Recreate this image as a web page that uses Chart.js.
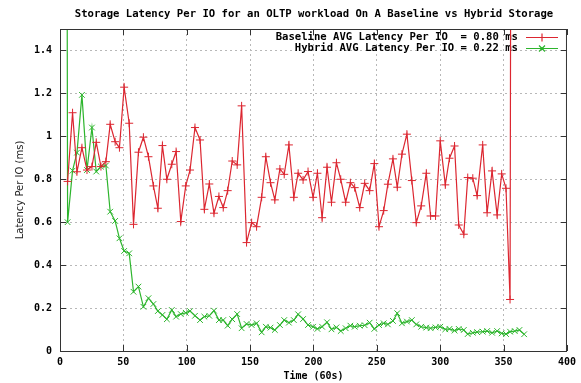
<!DOCTYPE html>
<html>
<head>
<meta charset="utf-8">
<title>Storage Latency Per IO</title>
<script src="https://cdn.jsdelivr.net/npm/chart.js@4.4.1/dist/chart.umd.min.js"></script>
<style>
  html, body { margin: 0; padding: 0; background: #fff; }
  #latencyChart { display: block; }
</style>
</head>
<body>
<canvas id="latencyChart" width="581" height="383"></canvas>
<script>
// sample times, in 60s intervals
var minutes = [2.3, 6.0, 9.9, 13.4, 17.3, 21.3, 25.2, 28.6, 32.3, 36.2, 39.6, 43.5, 46.9, 50.6, 54.6,
    58.0, 61.9, 65.8, 69.8, 73.7, 77.2, 80.8, 84.3, 88.2, 91.6, 95.3, 99.2, 102.6, 106.5, 110.5,
    113.9, 117.8, 121.5, 125.4, 128.8, 132.3, 135.9, 139.8, 143.3, 147.2, 151.2, 155.1, 159.1, 162.4,
    166.1, 169.5, 173.5, 176.9, 180.6, 184.5, 187.9, 191.8, 195.7, 199.7, 203.1, 206.8, 210.7, 214.2,
    218.1, 221.5, 225.4, 229.1, 232.5, 236.5, 240.4, 244.3, 248.0, 251.7, 255.4, 258.7, 262.7, 266.1,
    269.8, 273.7, 277.6, 281.1, 285.0, 289.0, 292.4, 296.3, 300.0, 304.0, 307.3, 311.3, 314.6, 318.6,
    321.7, 325.7, 329.1, 333.5, 337.0, 340.9, 344.9, 348.5, 351.9, 355.1, 358.8, 362.5, 366.2];

// latency per IO (ms)
var baselineMs = [null, 0.79, 1.11, 0.835, 0.947, 0.843, 0.859, 0.972, 0.859, 0.882, 1.056, 0.975, 0.947,
    1.229, 1.061, 0.59, 0.926, 0.996, 0.905, 0.769, 0.665, 0.957, 0.80, 0.87, 0.929, 0.603, 0.769,
    0.843, 1.041, 0.983, 0.66, 0.778, 0.642, 0.72, 0.668, 0.747, 0.885, 0.867, 1.142, 0.505, 0.598,
    0.579, 0.716, 0.905, 0.784, 0.704, 0.848, 0.823, 0.96, 0.716, 0.828, 0.797, 0.836, 0.716, 0.828,
    0.621, 0.856, 0.693, 0.877, 0.80, 0.693, 0.784, 0.761, 0.668, 0.781, 0.747, 0.873, 0.579, 0.654,
    0.777, 0.895, 0.763, 0.917, 1.01, 0.794, 0.598, 0.676, 0.828, 0.629, 0.629, 0.979, 0.774, 0.898,
    0.955, 0.587, 0.544, 0.808, 0.805, 0.724, 0.96, 0.644, 0.839, 0.634, 0.825, 0.758, 0.24, 12];

var hybridMs = [12, 0.60, 0.84, 0.924, 1.193, 0.843, 1.041, 0.836, 0.859, 0.864, 0.649, 0.606, 0.525,
    0.466, 0.455, 0.276, 0.30, 0.206, 0.246, 0.219, 0.186, 0.168, 0.148, 0.191, 0.16, 0.172, 0.178,
    0.186, 0.164, 0.144, 0.16, 0.164, 0.188, 0.144, 0.144, 0.118, 0.148, 0.172, 0.106, 0.126, 0.121,
    0.129, 0.087, 0.113, 0.109, 0.098, 0.121, 0.144, 0.132, 0.144, 0.171, 0.149, 0.121, 0.113, 0.103,
    0.113, 0.134, 0.101, 0.11, 0.093, 0.106, 0.118, 0.113, 0.118, 0.12, 0.132, 0.103, 0.121, 0.129,
    0.124, 0.14, 0.176, 0.129, 0.137, 0.144, 0.124, 0.113, 0.109, 0.106, 0.11, 0.113, 0.101, 0.103,
    0.095, 0.103, 0.098, 0.079, 0.085, 0.088, 0.09, 0.093, 0.085, 0.093, 0.082, 0.079, 0.09, 0.093,
    0.098, 0.078];

var xTicks = [0, 50, 100, 150, 200, 250, 300, 350, 400];
var yTicks = [0, 0.2, 0.4, 0.6, 0.8, 1, 1.2, 1.4];

var legendLabels = ['Baseline AVG Latency Per IO  = 0.80 ms', 'Hybrid AVG Latency Per IO = 0.22 ms'];
var chartTitle = 'Storage Latency Per IO for an OLTP workload On A Baseline vs Hybrid Storage';

var RED = '#dc2630';
var GREEN = '#2db52d';
var MONO = '"DejaVu Sans Mono", "Liberation Mono", monospace';

function toPoints(values) {
    return values.map(function (v, i) { return { x: minutes[i], y: v }; });
}

// gnuplot style frame: box, inward tick marks, title and key
var gnuFrame = {
    id: 'gnuFrame',
    beforeDatasetsDraw: function (chart) {
        var ctx = chart.ctx;
        ctx.save();
        ctx.font = 'bold 10.6px ' + MONO;
        ctx.fillStyle = '#000';
        ctx.textAlign = 'right';
        ctx.textBaseline = 'middle';
        ctx.fillText(legendLabels[0], 518, 37);
        ctx.fillText(legendLabels[1], 518, 48);
        ctx.restore();
    },
    afterDraw: function (chart) {
        var ctx = chart.ctx;
        var a = chart.chartArea;
        var xs = chart.scales.x, ys = chart.scales.y;
        ctx.save();

        // border box
        ctx.strokeStyle = '#333';
        ctx.lineWidth = 1;
        ctx.strokeRect(a.left + 0.5, a.top + 0.5, a.right - a.left - 1, a.bottom - a.top);

        // tick marks on all four sides
        ctx.beginPath();
        xTicks.forEach(function (t) {
            var px = Math.round(xs.getPixelForValue(t)) + 0.5;
            ctx.moveTo(px, a.bottom); ctx.lineTo(px, a.bottom - 6);
            ctx.moveTo(px, a.top); ctx.lineTo(px, a.top + 6);
        });
        yTicks.forEach(function (t) {
            var py = Math.round(ys.getPixelForValue(t)) + 0.5;
            ctx.moveTo(a.left, py); ctx.lineTo(a.left + 6, py);
            ctx.moveTo(a.right, py); ctx.lineTo(a.right - 6, py);
        });
        ctx.stroke();

        // title
        ctx.font = 'bold 10.6px ' + MONO;
        ctx.fillStyle = '#000';
        ctx.textAlign = 'center';
        ctx.textBaseline = 'middle';
        ctx.fillText(chartTitle, 314, 14);

        // key samples
        var rows = [{ y: 37, color: RED, plus: true }, { y: 48, color: GREEN, plus: false }];
        rows.forEach(function (r) {
            ctx.strokeStyle = r.color;
            ctx.lineWidth = 1.2;
            ctx.beginPath();
            ctx.moveTo(526, r.y + 0.5); ctx.lineTo(558, r.y + 0.5);
            var cx = 542, cy = r.y + 0.5;
            if (r.plus) {
                ctx.moveTo(cx - 4, cy); ctx.lineTo(cx + 4, cy);
                ctx.moveTo(cx, cy - 4); ctx.lineTo(cx, cy + 4);
            } else {
                ctx.moveTo(cx - 3, cy - 3); ctx.lineTo(cx + 3, cy + 3);
                ctx.moveTo(cx - 3, cy + 3); ctx.lineTo(cx + 3, cy - 3);
            }
            ctx.stroke();
        });
        ctx.restore();
    }
};

document.addEventListener('DOMContentLoaded', function () {
    var ctx = document.getElementById('latencyChart').getContext('2d');
    new Chart(ctx, {
        type: 'line',
        data: {
            datasets: [{
                label: 'Baseline',
                data: toPoints(baselineMs),
                borderColor: RED,
                backgroundColor: RED,
                borderWidth: 1.2,
                pointStyle: 'cross',
                pointRadius: 4,
                pointBorderWidth: 1,
                pointBorderColor: RED,
                tension: 0,
                clip: 0
            }, {
                label: 'Hybrid',
                data: toPoints(hybridMs),
                borderColor: GREEN,
                backgroundColor: GREEN,
                borderWidth: 1.2,
                pointStyle: 'crossRot',
                pointRadius: 4,
                pointBorderWidth: 1,
                pointBorderColor: GREEN,
                tension: 0,
                clip: 0
            }]
        },
        options: {
            responsive: false,
            animation: false,
            devicePixelRatio: 1,
            layout: { padding: { top: 29, right: 12, left: 0, bottom: 0 } },
            plugins: {
                legend: { display: false },
                title: { display: false },
                tooltip: { enabled: false }
            },
            scales: {
                x: {
                    type: 'linear',
                    min: 0,
                    max: 400,
                    afterBuildTicks: function (scale) {
                        scale.ticks = xTicks.map(function (v) { return { value: v }; });
                    },
                    afterFit: function (scale) { scale.height = 32; },
                    ticks: {
                        padding: 5,
                        color: '#000',
                        font: { family: MONO, size: 10, weight: 'bold' },
                        maxRotation: 0
                    },
                    grid: { color: '#b8b8b8', lineWidth: 1, drawTicks: false },
                    border: { display: false, dash: [2, 3] },
                    title: {
                        display: true,
                        text: 'Time (60s)',
                        color: '#000',
                        font: { family: MONO, size: 10, weight: 'bold' },
                        padding: { top: 0, bottom: 1 }
                    }
                },
                y: {
                    min: 0,
                    max: 1.5,
                    afterBuildTicks: function (scale) {
                        scale.ticks = yTicks.map(function (v) { return { value: v }; });
                    },
                    afterFit: function (scale) { scale.width = 60; },
                    ticks: {
                        padding: 8,
                        color: '#000',
                        font: { family: MONO, size: 10, weight: 'bold' },
                        callback: function (v) { return String(Number(v.toFixed(1))); }
                    },
                    grid: { color: '#b8b8b8', lineWidth: 1, drawTicks: false },
                    border: { display: false, dash: [2, 3] },
                    title: {
                        display: true,
                        text: 'Latency Per IO (ms)',
                        color: '#222',
                        font: { family: '"DejaVu Sans", sans-serif', size: 10 },
                        padding: { top: 14, bottom: 0 }
                    }
                }
            }
        },
        plugins: [gnuFrame]
    });
});
</script>
</body>
</html>
